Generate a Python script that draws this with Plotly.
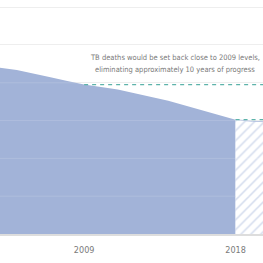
import plotly.graph_objects as go

# Observed TB deaths (millions)
years = [2003, 2004, 2005, 2006, 2007, 2008, 2009, 2010, 2011, 2012, 2013, 2014, 2015, 2016, 2017, 2018]
deaths = [2.21, 2.198, 2.17, 2.125, 2.074, 2.024, 1.976, 1.943, 1.91, 1.863, 1.813, 1.764, 1.70, 1.638, 1.574, 1.512]

# Projected scenario (hatched)
proj_years = [2018, 2019, 2020, 2021]
proj_deaths = [1.512, 1.49, 1.485, 1.52]

# Reference levels
ref2009_years = [2009, 2022]
ref2018_years = [2018, 2022]

tick_years = [2000, 2009, 2018, 2020, 2025]
tick_labels = ["2000", "2009", "2018", "2020", "2025"]
y_grid = [0.5, 1.0, 1.5, 2.0, 2.5, 3.0]

note_lines = ["TB deaths would be set back close to 2009 levels,",
              "eliminating approximately 10 years of progress"]
note_y = [2.33, 2.17]
note_shift = [-1, -6]

FONT = "Liberation Sans Narrow, DejaVu Sans Condensed, Arial Narrow, sans-serif"
AREA = "#a2b3d8"
TEAL = "#5db3aa"

fig = go.Figure()
fig.add_trace(go.Scatter(x=years, y=deaths, mode="lines", fill="tozeroy",
                         fillcolor=AREA, line=dict(width=0, color=AREA),
                         hoverinfo="skip", showlegend=False))
fig.add_trace(go.Scatter(x=proj_years, y=proj_deaths, mode="lines", fill="tozeroy",
                         fillcolor="rgba(0,0,0,0)",
                         fillpattern=dict(shape="/", fgcolor="#a7b7dc", bgcolor="white",
                                          size=7, solidity=0.22),
                         line=dict(width=0.8, color="#a7b7dc"),
                         hoverinfo="skip", showlegend=False))
v2009 = deaths[years.index(2009)]
v2018 = deaths[years.index(2018)]
fig.add_trace(go.Scatter(x=ref2009_years, y=[v2009] * len(ref2009_years), mode="lines",
                         line=dict(color=TEAL, width=1.2, dash="4px,4px"),
                         hoverinfo="skip", showlegend=False))
fig.add_trace(go.Scatter(x=ref2018_years, y=[v2018] * len(ref2018_years), mode="lines",
                         line=dict(color=TEAL, width=1.2, dash="4px,4px"),
                         hoverinfo="skip", showlegend=False))

for v in y_grid:
    fig.add_shape(type="line", xref="paper", x0=0, x1=1, yref="y", y0=v, y1=v,
                  line=dict(color="rgba(255,255,255,0.14)", width=1), layer="above")

for txt, ty, sh in zip(note_lines, note_y, note_shift):
    fig.add_annotation(x=1.0, y=ty, xref="paper", yref="y", text=txt, xshift=sh,
                       showarrow=False, align="right", xanchor="right", yanchor="middle",
                       font=dict(family=FONT, size=7.5, color="#7a7a7a"))

fig.update_layout(
    width=263, height=263,
    margin=dict(l=0, r=0, t=0, b=29),
    paper_bgcolor="white", plot_bgcolor="white",
    xaxis=dict(range=[2004.0, 2019.63], tickvals=tick_years, ticktext=tick_labels,
               showgrid=False, zeroline=False, showline=True, linecolor="#dddddd",
               linewidth=1.5, ticks="", tickfont=dict(family=FONT, size=9, color="#7a7a7a"),
               ticklabelstandoff=6, fixedrange=True),
    yaxis=dict(range=[0, 3.095], tickvals=y_grid, showticklabels=False,
               showgrid=True, gridcolor="#ededed", gridwidth=1, zeroline=False,
               showline=False, fixedrange=True),
    showlegend=False,
)

fig.write_html("out.html")
